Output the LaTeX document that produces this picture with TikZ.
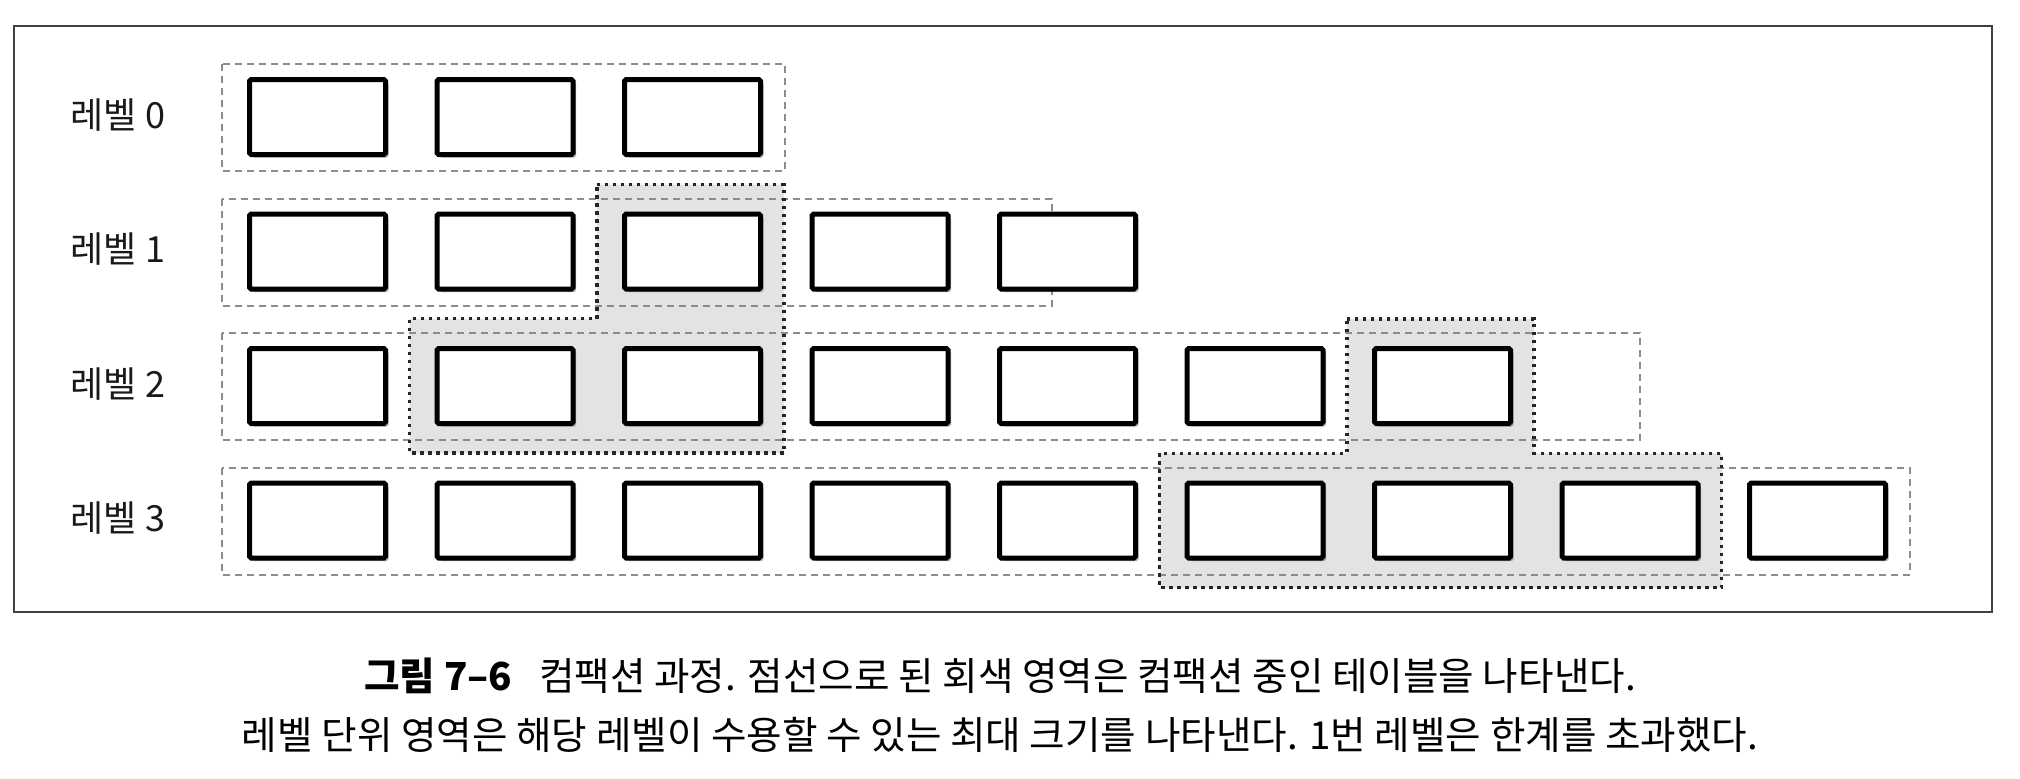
\documentclass[tikz,border=0pt]{standalone}
\usepackage{fontspec}
\setmainfont{Noto Sans CJK KR}
\usetikzlibrary{shadows}
\begin{document}
\begin{tikzpicture}[x=0.5pt,y=-0.5pt,
  tbox/.style={draw=black, line width=2.5pt, fill=white, minimum width=68pt, minimum height=37.5pt,
    inner sep=0pt, rounded corners=0.8pt,
    drop shadow={shadow xshift=1.5pt, shadow yshift=-1.5pt, opacity=0.3, fill=black}},
  levelarea/.style={draw=black!45, line width=1pt, dash pattern=on 3.5pt off 2.5pt},
  compfill/.style={fill=black!11, draw=none},
  compline/.style={draw=black!85, line width=1.6pt, dash pattern=on 1.6pt off 2.4pt},
  outerframe/.style={draw=black!75, line width=1.1pt},
  lbl/.style={font=\fontsize{18pt}{22pt}\selectfont, text=black!90, inner sep=0pt},
  captext/.style={font=\fontsize{19.3pt}{23pt}\selectfont, text=black, inner sep=0pt, anchor=base}]
\useasboundingbox (0,0) rectangle (2020,778);
% outer frame
\draw[outerframe] (14,26) rectangle (1992,612);
% compaction (gray) areas
\fill[compfill] (597,184.5) -- (784,184.5) -- (784,453) -- (409.5,453) -- (409.5,318.75) -- (597,318.75) -- cycle;
\fill[compfill] (1347,319) -- (1534,319) -- (1534,453.25) -- (1721.5,453.25) -- (1721.5,587.5) -- (1159.5,587.5) -- (1159.5,453.25) -- (1347,453.25) -- cycle;
% level areas (dashed)
\draw[levelarea] (222,64) rectangle (785,171);
\draw[levelarea] (222,198.5) rectangle (1052,305.5);
\draw[levelarea] (222,333) rectangle (1640,440);
\draw[levelarea] (222,467.5) rectangle (1910,574.5);
% compaction borders (dotted)
\draw[compline] (597,184.5) -- (784,184.5) -- (784,453) -- (409.5,453) -- (409.5,318.75) -- (597,318.75) -- cycle;
\draw[compline] (1347,319) -- (1534,319) -- (1534,453.25) -- (1721.5,453.25) -- (1721.5,587.5) -- (1159.5,587.5) -- (1159.5,453.25) -- (1347,453.25) -- cycle;
% tables
\foreach \r/\n in {0/2,1/4,2/6,3/8}{
  \foreach \c in {0,...,\n}{
    \node[tbox] (b\r-\c) at ({317.5+187.5*\c},{117+134.5*\r}) {};
  }
}
% level labels
\node[lbl] (l0) at (118,115) {레벨 0};
\node[lbl] (l1) at (118,249.5) {레벨 1};
\node[lbl] (l2) at (118,384) {레벨 2};
\node[lbl] (l3) at (118,518.5) {레벨 3};
% caption
\node[captext] (cap1) at (1000,690) {{\bfseries 그림 7–6}\hspace{0.7em}컴팩션 과정. 점선으로 된 회색 영역은 컴팩션 중인 테이블을 나타낸다.};
\node[captext] (cap2) at (1000,749) {레벨 단위 영역은 해당 레벨이 수용할 수 있는 최대 크기를 나타낸다. 1번 레벨은 한계를 초과했다.};
\end{tikzpicture}
\end{document}
